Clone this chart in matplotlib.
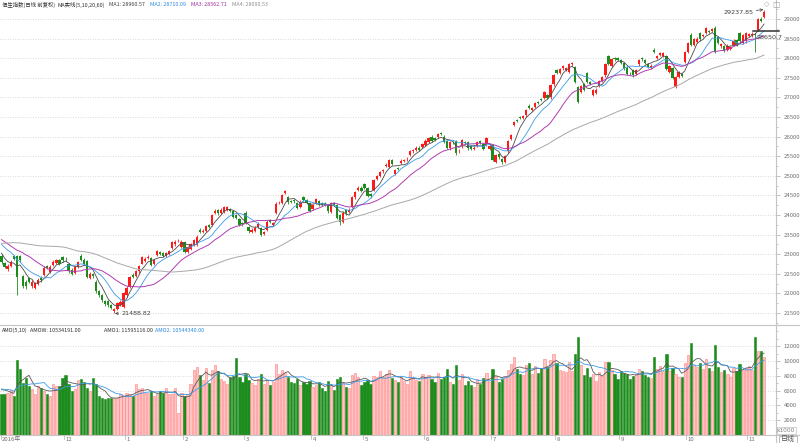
import numpy as np
import pandas as pd
import matplotlib
matplotlib.use('Agg')
import matplotlib.pyplot as plt
from matplotlib.ticker import MultipleLocator, FixedLocator
from matplotlib.patches import Rectangle

plt.rcParams['font.family'] = ['Noto Sans CJK SC', 'DejaVu Sans']

# closes before the visible window (for the moving averages at the left edge)
warmup = [22497, 22465, 22492, 22580, 22767, 22932, 22910, 22799, 23024, 22937,
          22998, 22998, 22820, 22815, 22909, 22821, 22974, 22977,
          23162, 23266, 23650, 23787, 23919, 24099, 24099, 23291, 23290, 23190,
          23335, 23550, 23530, 23670, 23755, 23686, 23452, 23567, 23620, 23739, 23297,
          23584, 23689, 23788, 23952, 23851, 23549, 23407, 23031, 23233, 23038,
          23394, 23435, 23374, 23374, 23604, 23565, 23326, 23132, 22954, 22934]
vol_warmup = [6200, 5900, 6400, 7100, 6000, 5800, 6300, 6900, 6100]

opens = [22960, 22780, 22620, 22700, 22950, 22950, 22950, 22450, 22300, 22400,
         22180, 22150, 22250, 22400, 22480, 22700, 22550, 22720, 22780, 22850,
         22930, 22890, 22740, 22600, 22520, 22680, 22950, 22860, 22820, 22400,
         22500, 22300, 22050, 21950, 21800, 21800, 21700, 21540, 21600, 21700,
         21650, 21950, 22160, 22480, 22450, 22560, 22760, 22830, 22900, 22900,
         22750, 22990, 23060, 23020, 22960, 23000, 23160, 23250, 23350, 23180,
         23300, 23050, 23140, 23230, 23250, 23620, 23560, 23600, 23740, 23750,
         24050, 24120, 24060, 24080, 24120, 24160, 24100, 23990, 23900, 23800,
         24040, 23700, 23560, 23600, 23690, 23660, 23520, 23620, 23860, 23750,
         24050, 24300, 24300, 24560, 24450, 24360, 24380, 24300, 24200, 24450,
         24390, 24300, 24150, 24300, 24350, 24300, 24290, 24260, 24080, 24300,
         24250, 24000, 23830, 24120, 24080, 24200, 24450, 24650, 24700, 24780,
         24690, 24530, 24650, 24920, 25000, 25110, 25250, 25230, 25400, 25050,
         25200, 25330, 25380, 25420, 25530, 25620, 25660, 25720, 25740, 25780,
         25870, 26000, 25960, 25990, 26090, 26000, 25880, 25700, 25870, 25880,
         25620, 25750, 25870, 25850, 25750, 25680, 25760, 25880, 25800, 25800,
         25680, 25780, 25360, 25560, 25420, 25350, 25620, 25950, 26300, 26420,
         26500, 26470, 26540, 26790, 26680, 26760, 26870, 26960, 26990, 27050,
         27000, 27330, 27700, 27620, 27740, 27700, 27650, 27840, 27780, 27270,
         27150, 27330, 27620, 27400, 27060, 27120, 27300, 27420, 27560, 28050,
         27800, 28000, 28000, 27950, 27880, 27760, 27620, 27690, 27600, 27840,
         28000, 27950, 27860, 27760, 28220, 28000, 28080, 28050, 28050, 27640,
         27750, 27270, 27530, 27600, 27900, 28170, 28600, 28330, 28420, 28640,
         28560, 28640, 28700, 28700, 28780, 28540, 28300, 28300, 28210, 28230,
         28340, 28460, 28650, 28400, 28430, 28560, 28580, 28620, 28720, 29000,
         29050]
highs = [23000, 22810, 22740, 22850, 22990, 22980, 22990, 22480, 22340, 22430,
         22330, 22300, 22390, 22440, 22690, 22730, 22720, 22840, 22880, 22890,
         22960, 22930, 22780, 22640, 22700, 22830, 23010, 22900, 22850, 22540,
         22530, 22330, 22090, 21990, 21840, 21830, 21740, 21640, 21780, 21830,
         22030, 22180, 22450, 22510, 22590, 22730, 22960, 22920, 22980, 22930,
         22880, 23110, 23090, 23050, 23050, 23110, 23330, 23360, 23400, 23350,
         23330, 23210, 23280, 23380, 23480, 23660, 23640, 23740, 23770, 24030,
         24150, 24160, 24170, 24230, 24240, 24190, 24130, 24020, 23930, 23830,
         24100, 23730, 23660, 23710, 23810, 23690, 23600, 23860, 23890, 23830,
         24320, 24350, 24530, 24640, 24480, 24390, 24410, 24330, 24370, 24480,
         24420, 24330, 24290, 24430, 24380, 24330, 24320, 24290, 24340, 24330,
         24280, 24030, 24090, 24150, 24170, 24480, 24610, 24740, 24730, 24810,
         24720, 24560, 24930, 25020, 25130, 25180, 25320, 25430, 25430, 25170,
         25230, 25420, 25440, 25470, 25670, 25680, 25750, 25750, 25840, 25930,
         25990, 26030, 25990, 26100, 26120, 26030, 25910, 25880, 25900, 25910,
         25680, 25950, 25900, 25880, 25780, 25750, 25900, 25910, 25830, 25990,
         25800, 25810, 25550, 25590, 25450, 25530, 25910, 26070, 26390, 26450,
         26530, 26550, 26700, 26820, 26750, 26880, 26900, 26990, 27160, 27080,
         27350, 27590, 27730, 27750, 27820, 27770, 27890, 27900, 27810, 27300,
         27320, 27360, 27650, 27430, 27210, 27230, 27450, 27550, 27880, 28080,
         28010, 28030, 28030, 27980, 27910, 27790, 27650, 27720, 27730, 27980,
         28030, 27980, 27890, 27840, 28250, 28090, 28160, 28160, 28080, 27830,
         27780, 27550, 27670, 27630, 28180, 28420, 28640, 28510, 28530, 28670,
         28630, 28800, 28730, 28770, 28810, 28570, 28390, 28330, 28350, 28310,
         28480, 28490, 28680, 28610, 28670, 28650, 28660, 28650, 29030, 29040,
         29237.85]
lows = [22760, 22650, 22580, 22680, 22840, 21960, 22810, 22150, 22120, 22260,
        22140, 22110, 22220, 22300, 22450, 22620, 22520, 22690, 22750, 22730,
        22810, 22830, 22520, 22460, 22490, 22650, 22820, 22720, 22400, 22360,
        22400, 22020, 21900, 21790, 21690, 21660, 21600, 21488.82, 21570, 21670,
        21630, 21920, 22130, 22390, 22420, 22530, 22740, 22800, 22870, 22690,
        22720, 22960, 22970, 22920, 22930, 22970, 23130, 23220, 23310, 23150,
        23020, 23020, 23110, 23200, 23220, 23530, 23530, 23570, 23670, 23720,
        24020, 24010, 24030, 24050, 24090, 24080, 23930, 23890, 23710, 23730,
        23770, 23550, 23530, 23570, 23660, 23470, 23490, 23600, 23790, 23720,
        24030, 24270, 24280, 24530, 24290, 24300, 24310, 24160, 24170, 24360,
        24270, 24080, 24120, 24270, 24240, 24230, 24230, 24060, 24050, 24230,
        23890, 23750, 23800, 24010, 24050, 24170, 24420, 24620, 24580, 24670,
        24450, 24440, 24620, 24890, 24970, 25080, 25220, 25200, 25270, 25020,
        25140, 25300, 25350, 25390, 25500, 25590, 25630, 25630, 25710, 25750,
        25840, 25850, 25890, 25960, 26030, 25840, 25690, 25670, 25820, 25540,
        25590, 25720, 25810, 25670, 25650, 25650, 25730, 25810, 25660, 25770,
        25650, 25370, 25330, 25440, 25300, 25320, 25590, 25920, 26270, 26360,
        26440, 26440, 26510, 26710, 26650, 26730, 26820, 26910, 26960, 26950,
        26970, 27300, 27590, 27590, 27710, 27670, 27620, 27810, 27370, 26860,
        27120, 27170, 27370, 27310, 27030, 27090, 27270, 27390, 27530, 27830,
        27770, 27940, 27920, 27850, 27710, 27570, 27580, 27530, 27570, 27810,
        27940, 27850, 27750, 27730, 28120, 27970, 28050, 28020, 27690, 27610,
        27470, 27240, 27500, 27520, 27870, 28140, 28300, 28300, 28390, 28450,
        28530, 28610, 28650, 28670, 28140, 28370, 28270, 28170, 28180, 28200,
        28310, 28310, 28400, 28370, 28400, 28530, 28550, 28170, 28690, 28930,
        29020]
closes = [22800, 22680, 22700, 22800, 22880, 22420, 22840, 22200, 22180, 22300,
          22290, 22260, 22350, 22350, 22660, 22660, 22680, 22800, 22840, 22760,
          22850, 22870, 22560, 22500, 22670, 22800, 22860, 22760, 22430, 22500,
          22450, 22060, 21950, 21830, 21730, 21700, 21640, 21600, 21750, 21790,
          22000, 22150, 22420, 22430, 22560, 22700, 22930, 22880, 22940, 22720,
          22850, 23080, 23000, 22950, 23020, 23080, 23300, 23320, 23360, 23320,
          23050, 23180, 23250, 23350, 23450, 23560, 23600, 23710, 23700, 24000,
          24110, 24040, 24140, 24200, 24200, 24110, 23960, 23920, 23740, 23760,
          23800, 23580, 23620, 23680, 23780, 23500, 23570, 23830, 23820, 23790,
          24290, 24310, 24500, 24600, 24320, 24330, 24350, 24190, 24340, 24390,
          24300, 24110, 24260, 24400, 24270, 24260, 24260, 24090, 24310, 24260,
          23920, 23830, 24060, 24040, 24140, 24450, 24580, 24700, 24615, 24700,
          24480, 24480, 24900, 24990, 25100, 25150, 25280, 25400, 25300, 25140,
          25170, 25390, 25410, 25440, 25640, 25650, 25720, 25660, 25810, 25900,
          25960, 25880, 25920, 26070, 26060, 25870, 25720, 25850, 25850, 25570,
          25640, 25920, 25840, 25700, 25680, 25720, 25870, 25840, 25690, 25960,
          25770, 25400, 25520, 25470, 25340, 25500, 25880, 26040, 26360, 26390,
          26470, 26520, 26670, 26740, 26720, 26850, 26850, 26940, 27130, 26980,
          27320, 27560, 27620, 27720, 27790, 27740, 27860, 27870, 27400, 26890,
          27290, 27200, 27400, 27340, 27180, 27200, 27420, 27520, 27850, 27860,
          27980, 27970, 27950, 27880, 27740, 27600, 27610, 27560, 27700, 27950,
          27970, 27880, 27780, 27810, 28150, 28060, 28130, 28130, 27720, 27800,
          27500, 27520, 27640, 27550, 28150, 28390, 28330, 28480, 28500, 28480,
          28600, 28770, 28680, 28740, 28170, 28400, 28360, 28200, 28320, 28280,
          28450, 28340, 28430, 28580, 28640, 28620, 28630, 28590, 29000, 28960,
          29180]
# turnover, x1000
volumes = [5490, 5600, 5710, 6030, 5265, 10080, 8860, 7060, 7740, 6615,
           6165, 5490, 6615, 6390, 5940, 5490, 5265, 6840, 6615, 6615,
           7740, 8100, 6840, 5940, 6165, 7380, 7515, 7200, 6390, 5940,
           7740, 6840, 5265, 5040, 4815, 5040, 5040, 5040, 5040, 5490,
           5265, 5710, 5490, 5265, 6840, 6165, 6300, 5710, 5710, 5940,
           5265, 5490, 5940, 5710, 6300, 5500, 5500, 6300, 3015, 5710,
           5265, 5580, 6930, 8730, 9180, 8100, 7500, 9000, 7000, 8800,
           9500, 8600, 7600, 7300, 6900, 7800, 8000, 10400, 7800, 7200,
           8300, 7400, 7000, 6800, 7600, 8200, 6900, 7400, 6800, 7100,
           9600, 8200, 8800, 8400, 7900, 7200, 7000, 7600, 6800, 7100,
           6900, 7300, 6500, 6800, 7100, 6400, 6000, 7300, 6900, 6100,
           7600, 7900, 7000, 6500, 6400, 8100, 8400, 7900, 6800, 7200,
           7400, 6900, 8000, 7900, 8600, 7800, 8200, 8800, 7700, 7500,
           7100, 7800, 7300, 6900, 8600, 7700, 7500, 7300, 8300, 7900,
           8100, 7600, 7200, 8400, 7600, 7800, 8900, 7200, 6900, 9400,
           7400, 8200, 6800, 7300, 6700, 6500, 7600, 6900, 7700, 8400,
           7100, 8900, 8000, 7100, 7600, 7800, 8800, 9600, 10500, 8900,
           8200, 8100, 9400, 9700, 8300, 9300, 8400, 9000, 10300, 9200,
           10200, 10900, 9700, 8800, 8600, 8500, 9800, 8600, 11000, 13300,
           9400, 8100, 9100, 7900, 8200, 7300, 8500, 8000, 9800, 9900,
           8800, 8200, 7600, 8700, 8400, 8200, 7600, 8000, 8300, 8900,
           8600, 8100, 7900, 7700, 10600, 8900, 9300, 8700, 10900, 8600,
           9100, 8300, 7900, 7800, 9700, 10800, 12400, 9500, 9200, 9700,
           8900, 10300, 9000, 8600, 12100, 9200, 8500, 8800, 8300, 7900,
           9000, 8700, 9600, 8800, 9100, 9300, 8800, 13300, 11300, 11400,
           10534]

month_start = [0, 21, 41, 60, 80, 102, 119, 139, 161, 182, 203, 225, 245]
month_labels = ['2016年', '12', '1', '2', '3', '4', '5', '6', '7', '8', '9', '10', '11']
price_ticks = list(range(21500, 29001, 500))
vol_ticks = [2000, 4000, 6000, 8000, 10000, 12000]

W, H = 800, 443
PX0, DX = 1.5, 3.05   # pixel of first bar, pixels per bar


def rect(x0, y0, x1, y1):
    return [x0 / W, 1 - y1 / H, (x1 - x0) / W, (y1 - y0) / H]


def ftext(x, y, s, **kw):
    return fig.text(x / W, 1 - y / H, s, **kw)


def text_row(items, y, size):
    # place header pieces left to right, never closer than a small gap
    rend = fig.canvas.get_renderer()
    end = 0
    for px, s, tc in items:
        px = max(px, end + 2)
        t = ftext(px, y, s, fontsize=size, color=tc, va='center', ha='left')
        end = t.get_window_extent(rend).x1


fig = plt.figure(figsize=(8, 4.43), dpi=100)
ax = fig.add_axes(rect(0, 0, 776, 325))
axv = fig.add_axes(rect(0, 325, 776, 435))

n = len(closes)
x = np.arange(n)
o, h, l, c = (np.array(v, dtype=float) for v in (opens, highs, lows, closes))
up = c >= o
RED, GREEN = '#ff1a1a', '#1c8c1c'
col = np.where(up, RED, GREEN)

xl = (-PX0 / DX, (776 - PX0) / DX)
for a in (ax, axv):
    a.set_xlim(*xl)
    for s in ('left', 'top', 'bottom'):
        a.spines[s].set_visible(False)
    a.spines['right'].set_color('#c4c4c4')
    a.spines['right'].set_linewidth(0.8)
    a.yaxis.tick_right()
    a.tick_params(axis='y', which='major', labelsize=4.3, labelcolor='#707070',
                  color='#aaaaaa', length=3, width=0.5, pad=2.5)
    a.tick_params(axis='y', which='minor', color='#aaaaaa', length=1.5, width=0.5)
    a.set_xticks([])

# price panel
ax.set_ylim(29000 - (325 - 19) / 19.6 * 500, 29000 + 19 / 19.6 * 500)
ax.yaxis.set_major_locator(FixedLocator(price_ticks))
ax.yaxis.set_minor_locator(MultipleLocator(250))
for p in price_ticks:
    ax.axhline(p, color='#cfcfcf', lw=0.6, ls=(0, (1, 2)), zorder=0)

ax.vlines(x, l, h, colors=col, lw=0.6, zorder=2)
body = np.maximum(np.abs(c - o), 10)
ax.bar(x, body, bottom=np.minimum(o, c), width=0.74, color=col, lw=0, zorder=3)

allc = pd.Series(warmup + closes, dtype=float)
ma_cfg = [(5, '#4a4a4a', 0.6), (10, '#3a9ae8', 0.6), (20, '#b03cb0', 0.7), (60, '#a8a8a8', 0.7)]
for win, mc, lw in ma_cfg:
    ma = allc.rolling(win).mean().iloc[len(warmup):].values
    ax.plot(x, ma, color=mc, lw=lw, zorder=4)

# high / low labels
ilo = int(np.argmin(l))
ax.annotate('21488.82', xy=(ilo + 0.2, l[ilo]), xytext=(ilo + 2.2, l[ilo]),
            fontsize=4.6, color='#404040', va='center', ha='left', family='DejaVu Sans',
            arrowprops=dict(arrowstyle='->', color='#404040', lw=0.5, shrinkA=0, shrinkB=0))
ihi = int(np.argmax(h))
ax.annotate('29237.85', xy=(ihi - 0.2, h[ihi]), xytext=(ihi - 3.5, h[ihi] - 60),
            fontsize=4.6, color='#404040', va='center', ha='right', family='DejaVu Sans',
            arrowprops=dict(arrowstyle='->', color='#404040', lw=0.5, shrinkA=0, shrinkB=0))
ax.plot([ihi - 3.5, ihi + 5], [28690, 28690], color='#303030', lw=1.1, zorder=5, clip_on=False)
ax.text(ihi - 2.5, 28540, '28650.7', fontsize=4.6, color='#404040', va='center', ha='left',
        family='DejaVu Sans', zorder=6, clip_on=False)

# volume panel
vmax = (435 - 325) * 2000 / 14.8
axv.set_ylim(0, vmax)
axv.yaxis.set_major_locator(FixedLocator(vol_ticks))
axv.yaxis.set_minor_locator(MultipleLocator(1000))
for v in vol_ticks:
    axv.axhline(v, color='#cfcfcf', lw=0.6, ls=(0, (1, 2)), zorder=0)
vfc = np.where(up, '#ffc4c4', GREEN)
vec = np.where(up, '#ff8080', GREEN)
axv.bar(x, volumes, width=0.74, color=vfc, edgecolor=vec, lw=0.4, zorder=2)
allv = pd.Series(vol_warmup + volumes, dtype=float)
for win, mc in [(5, '#5a5a5a'), (10, '#3a9ae8')]:
    mv = allv.rolling(win).mean().iloc[len(vol_warmup):].values
    axv.plot(x, mv, color=mc, lw=0.6, zorder=3)

# frame lines
sep = dict(color='#c4c4c4', lw=0.8)
fig.add_artist(plt.Line2D([0, 1], [1 - 325 / H, 1 - 325 / H], **sep))
fig.add_artist(plt.Line2D([0, 1], [1 - 435 / H, 1 - 435 / H], **sep))
fig.add_artist(plt.Line2D([776 / W, 776 / W], [0, 1 - 435 / H], **sep))

# month labels on the time axis
for m, lab in zip(month_start, month_labels):
    px = max(PX0 + DX * (m - 0.5), 0.5)
    fig.add_artist(plt.Line2D([px / W, px / W], [1 - 435 / H, 1 - 439 / H], color='#b0b0b0', lw=0.5))
    ftext(px + 1.5, 439.5, lab, fontsize=4.3, color='#707070', va='center', ha='left')

ftext(788, 439.5, '日线', fontsize=5, color='#505050', va='center', ha='center')
fig.add_artist(Rectangle((779 / W, 1 - 443 / H), 18 / W, 7.5 / H, fill=False, ec='#a0a0a0', lw=0.5))
ftext(786, 430.5, 'x1000', fontsize=4.2, color='#808080', va='center', ha='center', family='DejaVu Sans')
fig.add_artist(Rectangle((777 / W, 1 - 434 / H), 19 / W, 7 / H, fill=False, ec='#c0c0c0', lw=0.5))

# header of price panel
hdr = [(0, '恒生指数(日线 前复权)', '#303030'), (57, 'MA实线(5,10,20,60)', '#303030'),
       (109, 'MA1: 28960.57', '#404040'), (150, 'MA2: 28710.09', '#2a8ae0'),
       (191, 'MA3: 28562.71', '#a030a0'), (232, 'MA4: 28090.53', '#909090')]
text_row(hdr, 5, 3.9)
ftext(767, 4, '◇', fontsize=5, color='#a0a0a0', va='center', ha='center', family='DejaVu Sans')
ftext(776, 4, '□', fontsize=5.5, color='#a0a0a0', va='center', ha='center', family='DejaVu Sans')

# header of volume panel
vhdr = [(0, 'AMO(5,10)', '#303030'), (28, 'AMOW: 10534191.00', '#303030'),
        (104, 'AMO1: 11595116.00', '#303030'), (139, 'AMO2: 10544340.00', '#2a8ae0')]
text_row(vhdr, 330, 3.9)

fig.savefig('out.png', dpi=100, facecolor='white')
